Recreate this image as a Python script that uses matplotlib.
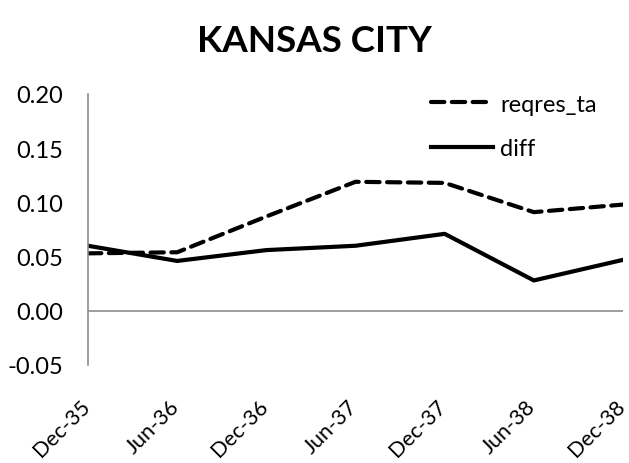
import matplotlib.pyplot as plt
from matplotlib.transforms import ScaledTranslation

plt.rcParams['font.family'] = ['Lato', 'DejaVu Sans']

dates = ["Dec-35", "Jun-36", "Dec-36", "Jun-37", "Dec-37", "Jun-38", "Dec-38"]
reqres_ta = [0.053, 0.054, 0.087, 0.119, 0.118, 0.091, 0.098]
diff = [0.060, 0.046, 0.056, 0.060, 0.071, 0.028, 0.047]

fig = plt.figure(figsize=(6.29, 4.64), dpi=100)
ax = fig.add_axes([88 / 629, 1 - 366 / 464, (623 - 88) / 629, (366 - 95) / 464])

x = range(len(dates))
ax.plot(x, reqres_ta, color="black", lw=3, dashes=(3.2, 1.8),
        dash_capstyle="round", label="reqres_ta")
ax.plot(x, diff, color="black", lw=3, label="diff")

ax.axhline(0, color="#8c8c8c", lw=1.2, zorder=0)
ax.set_xlim(0, 6)
ax.set_ylim(-0.05, 0.20)
ax.set_yticks([-0.05, 0.00, 0.05, 0.10, 0.15, 0.20])
ax.set_yticklabels(["-0.05", "0.00", "0.05", "0.10", "0.15", "0.20"], fontsize=17)
ax.set_xticks(list(x))
ax.set_xticklabels(dates, fontsize=15.5, rotation=45, ha="right",
                   rotation_mode="anchor")
ax.tick_params(axis="both", length=0)
ax.tick_params(axis="x", pad=22)
ax.tick_params(axis="y", pad=18)

# nudge the rotated labels a little left so the last one stays in frame
shift = ScaledTranslation(-6 / 72, 0, fig.dpi_scale_trans)
for lbl in ax.get_xticklabels():
    lbl.set_transform(lbl.get_transform() + shift)

for side in ["top", "right", "bottom"]:
    ax.spines[side].set_visible(False)
ax.spines["left"].set_color("#8c8c8c")
ax.spines["left"].set_linewidth(1.2)

ax.legend(loc="upper right", bbox_to_anchor=(0.99, 1.08), frameon=False,
          fontsize=17, handlelength=2.6, handletextpad=0.3, labelspacing=1.0)

fig.text(0.5, 1 - 41 / 464, "KANSAS CITY", ha="center", va="center",
         fontsize=26.5, fontweight="bold")

fig.savefig("out.png", dpi=100)
